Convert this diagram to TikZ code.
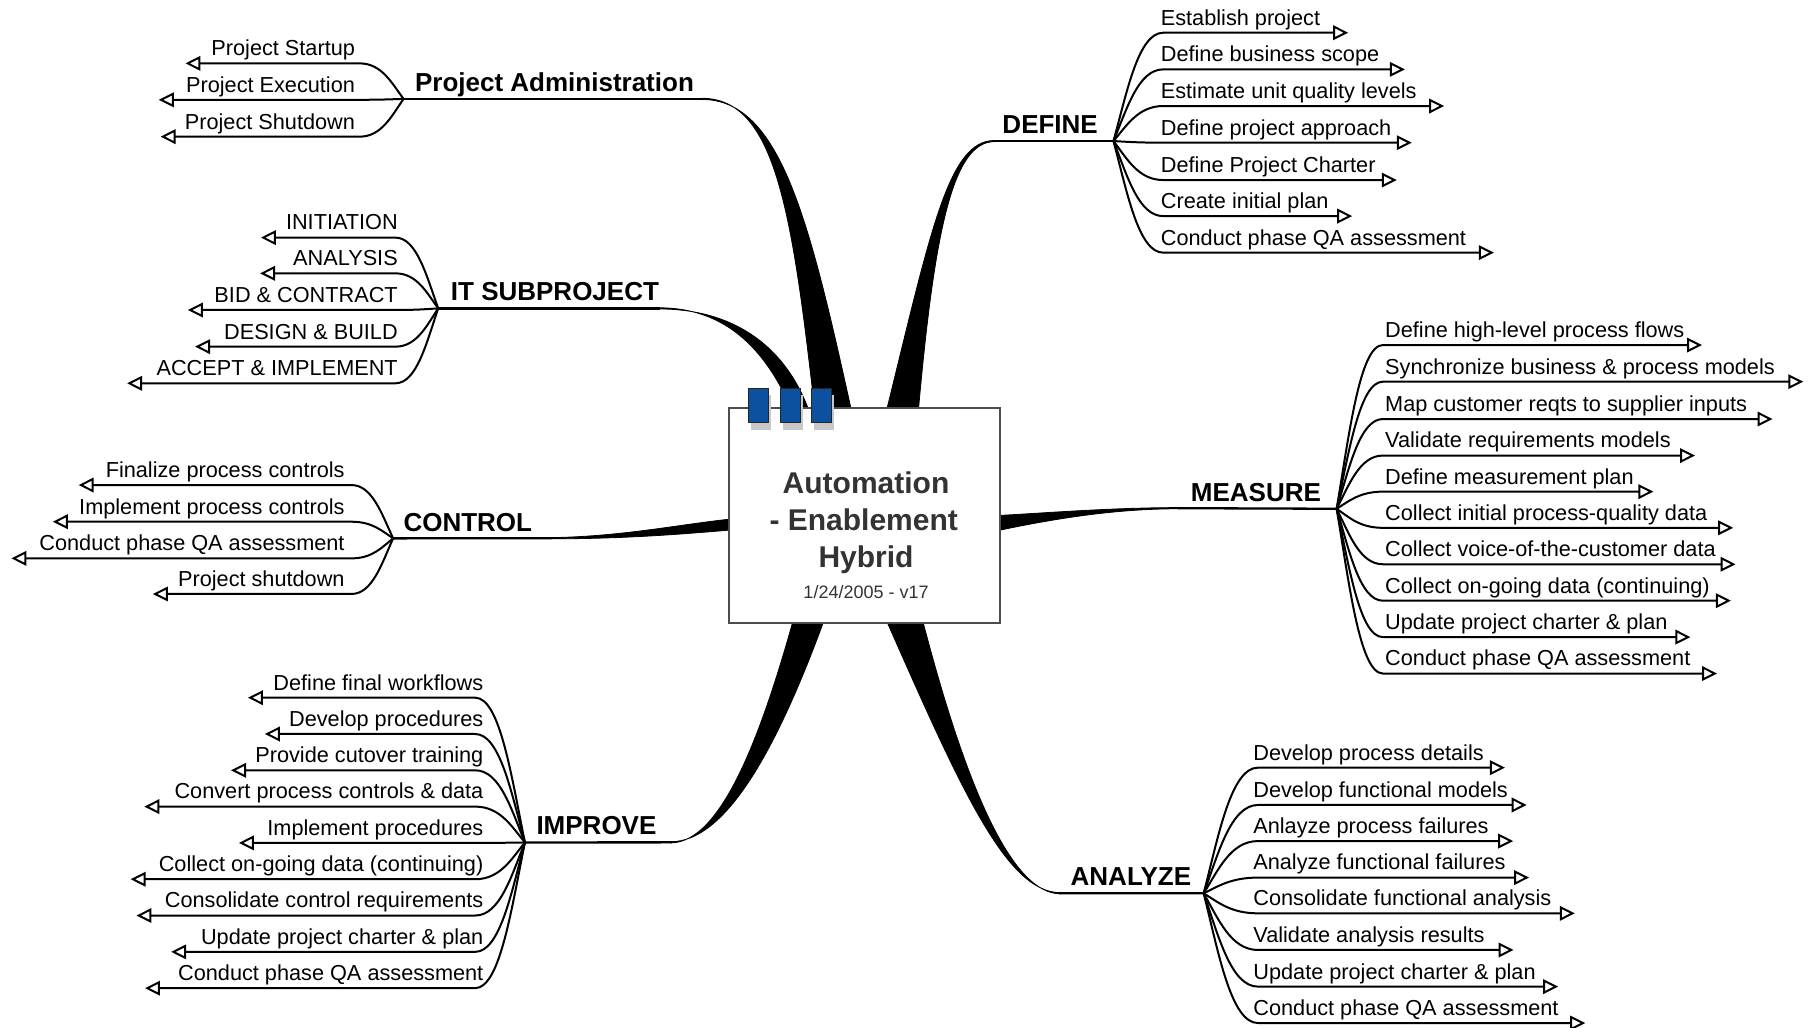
\documentclass[tikz,border=0pt]{standalone}
\usepackage{fontspec}
\setmainfont{Liberation Sans}
\usetikzlibrary{arrows.meta,calc}
\definecolor{boxblue}{RGB}{12,80,160}
\definecolor{shadowgray}{RGB}{200,200,200}
\definecolor{txtgray}{RGB}{51,51,51}
\tikzset{
  itemtxt/.style={inner sep=0pt, outer sep=0pt, font=\fontsize{21.7}{26}\selectfont},
  itemline/.style={line width=2pt, -{Triangle[open, length=15pt, width=14.5pt, line width=2pt]}},
  mainlbl/.style={inner sep=0pt, outer sep=0pt, anchor=base west, font=\bfseries\fontsize{26}{30}\selectfont},
  mainline/.style={line width=2.3pt},
  branchfill/.style={fill=black, draw=black, line width=0.8pt, line join=round},
  centertxt/.style={inner sep=0pt, outer sep=0pt, anchor=base, text=txtgray, font=\bfseries\fontsize{30}{36}\selectfont},
  clip rect/.style={fill=boxblue, draw=black!85, line width=1pt},
}
\newcommand\mmR[4]{%
  \pgfmathsetmacro\mmCax{\Hx+0.27*(\Sx-\Hx)}%
  \pgfmathsetmacro\mmCay{\Hy+0.45*(#3-\Hy)}%
  \pgfmathsetmacro\mmCbx{\Sx-0.5*(\Sx-\Hx)}%
  \pgfmathsetmacro\mmTy{#3-6.6}%
  \node[itemtxt,anchor=base west] (#1) at (\Tx,\mmTy) {#2};
  \coordinate (#1s) at (\Sx,#3);
  \coordinate (#1e) at (#4,#3);
  \draw[itemline] (\Hub) .. controls (\mmCax,\mmCay) and (\mmCbx,#3) .. (#1s) -- (#1e);
}
\newcommand\mmL[4]{%
  \pgfmathsetmacro\mmCax{\Hx+0.27*(\Sx-\Hx)}%
  \pgfmathsetmacro\mmCay{\Hy+0.45*(#3-\Hy)}%
  \pgfmathsetmacro\mmCbx{\Sx-0.5*(\Sx-\Hx)}%
  \pgfmathsetmacro\mmTy{#3-6.6}%
  \node[itemtxt,anchor=base east] (#1) at (\Tx,\mmTy) {#2};
  \coordinate (#1s) at (\Sx,#3);
  \coordinate (#1e) at (#4,#3);
  \draw[itemline] (\Hub) .. controls (\mmCax,\mmCay) and (\mmCbx,#3) .. (#1s) -- (#1e);
}
\begin{document}
\begin{tikzpicture}[x=1.15625pt,y=-1.15625pt]
\useasboundingbox (0,0) rectangle (1568,889);
\fill[white] (0,0) rectangle (1568,889);

% ---------- thick branches ----------
% Project Administration
\fill[branchfill] (607,85) .. controls (670,85) and (685,180) .. (705,358) -- (737,358) .. controls (700,190) and (675,86) .. (607,86) -- cycle;
% IT SUBPROJECT
\fill[branchfill] (570,266.2) .. controls (630,266.2) and (665,305) .. (688,362) -- (702,362) .. controls (682,300) and (635,267.2) .. (570,267.2) -- cycle;
% DEFINE
\fill[branchfill] (860,121.5) .. controls (820,121.5) and (805,200) .. (766,358) -- (794,358) .. controls (808,200) and (824,122.5) .. (860,122.5) -- cycle;
% MEASURE
\fill[branchfill] (1020,439) .. controls (960,439) and (900,444) .. (860,446) -- (860,459.5) .. controls (905,450) and (960,440) .. (1020,440) -- cycle;
% CONTROL
\fill[branchfill] (476,465) .. controls (540,464) and (590,453) .. (636,448.5) -- (636,458) .. controls (590,462) and (540,466) .. (476,466) -- cycle;
% IMPROVE
\fill[branchfill] (580,729) .. controls (625,729) and (660,630) .. (687,533) -- (714,533) .. controls (675,640) and (630,728) .. (580,728) -- cycle;
% ANALYZE
\fill[branchfill] (917,772) .. controls (870,772) and (830,680) .. (765,533) -- (797,533) .. controls (835,680) and (875,773) .. (917,773) -- cycle;

% ---------- hubs and label lines ----------
\coordinate (pahub) at (349,85.5);  \coordinate (paT) at (608,85.5);
\coordinate (ithub) at (379,266.7); \coordinate (itT) at (571,266.7);
\coordinate (cohub) at (340,465.6); \coordinate (coT) at (477,465.5);
\coordinate (imhub) at (454,728.6); \coordinate (imT) at (581,728.5);
\coordinate (dehub) at (963,122);   \coordinate (deT) at (859,122);
\coordinate (mehub) at (1156,440);  \coordinate (meT) at (1019,439.5);
\coordinate (anhub) at (1041,772.6);\coordinate (anT) at (916,772.5);
\draw[mainline] (pahub) -- (paT);
\draw[mainline] (ithub) -- (itT);
\draw[mainline] (cohub) -- (coT);
\draw[mainline] (imhub) -- (imT);
\draw[mainline] (dehub) -- (deT);
\draw[mainline] (mehub) -- (meT);
\draw[mainline] (anhub) -- (anT);

\node[mainlbl] (palbl) at (359,79) {Project Administration};
\node[mainlbl] (itlbl) at (390,259.8) {IT SUBPROJECT};
\node[mainlbl] (colbl) at (349,459.3) {CONTROL};
\node[mainlbl] (imlbl) at (464,722) {IMPROVE};
\node[mainlbl] (delbl) at (867,115.5) {DEFINE};
\node[mainlbl] (melbl) at (1030,433.5) {MEASURE};
\node[mainlbl] (anlbl) at (926,766.2) {ANALYZE};

% ---------- central box ----------
\node[draw=black!70, fill=white, line width=1.2pt, minimum width=271pt, minimum height=215pt, inner sep=0pt] (center) at (747.7,445.8) {};
\fill[shadowgray] (649.2,341.4) rectangle (667.2,371.6);
\fill[shadowgray] (676.8,341.4) rectangle (694.8,371.6);
\fill[shadowgray] (703.6,341.4) rectangle (721.6,371.6);
\draw[clip rect] (647,335.6) rectangle (665,365.8);
\draw[clip rect] (674.6,335.6) rectangle (692.6,365.8);
\draw[clip rect] (701.4,335.6) rectangle (719.4,365.8);
\node[centertxt] (ct1) at (749,426.4) {Automation};
\node[centertxt] (ct2) at (747,458.6) {- Enablement};
\node[centertxt] (ct3) at (749,491.2) {Hybrid};
\node[inner sep=0pt, anchor=base, text=txtgray, font=\fontsize{18}{22}\selectfont] (ct4) at (749,517.2) {1/24/2005 - v17};

% ---------- Project Administration items ----------
\def\Hub{pahub}\def\Hx{349}\def\Hy{85.5}\def\Sx{311}\def\Tx{307}
\mmL{p1}{Project Startup}{54.8}{160.4}
\mmL{p2}{Project Execution}{86.3}{137.3}
\mmL{p3}{Project Shutdown}{118.2}{138.9}

% ---------- IT SUBPROJECT items ----------
\def\Hub{ithub}\def\Hx{379}\def\Hy{266.7}\def\Sx{342}\def\Tx{344}
\mmL{t1}{INITIATION}{205.5}{225.7}
\mmL{t2}{ANALYSIS}{236.4}{224.9}
\mmL{t3}{BID \& CONTRACT}{268.1}{162.5}
\mmL{t4}{DESIGN \& BUILD}{299.8}{168.7}
\mmL{t5}{ACCEPT \& IMPLEMENT}{331.5}{109.9}

% ---------- CONTROL items ----------
\def\Hub{cohub}\def\Hx{340}\def\Hy{465.6}\def\Sx{304}\def\Tx{298}
\mmL{c1}{Finalize process controls}{419.5}{68}
\mmL{c2}{Implement process controls}{451.2}{45.7}
\mmL{c3}{Conduct phase QA assessment}{482.9}{9.9}
\mmL{c4}{Project shutdown}{513.7}{132.2}

% ---------- IMPROVE items ----------
\def\Hub{imhub}\def\Hx{454}\def\Hy{728.6}\def\Sx{411}\def\Tx{418}
\mmL{i1}{Define final workflows}{603.4}{214.4}
\mmL{i2}{Develop procedures}{634.8}{229}
\mmL{i3}{Provide cutover training}{666.2}{199.8}
\mmL{i4}{Convert process controls \& data}{697.6}{124.8}
\mmL{i5}{Implement procedures}{729}{206.6}
\mmL{i6}{Collect on-going data (continuing)}{760.4}{113}
\mmL{i7}{Consolidate control requirements}{791.8}{118}
\mmL{i8}{Update project charter \& plan}{823.2}{148}
\mmL{i9}{Conduct phase QA assessment}{854.6}{125.4}

% ---------- DEFINE items ----------
\def\Hub{dehub}\def\Hx{963}\def\Hy{122}\def\Sx{1006}\def\Tx{1004}
\mmR{d1}{Establish project}{28.3}{1166}
\mmR{d2}{Define business scope}{60}{1215}
\mmR{d3}{Estimate unit quality levels}{91.7}{1249}
\mmR{d4}{Define project approach}{123.4}{1221}
\mmR{d5}{Define Project Charter}{155.7}{1208}
\mmR{d6}{Create initial plan}{186.9}{1169.5}
\mmR{d7}{Conduct phase QA assessment}{218.5}{1292}

% ---------- MEASURE items ----------
\def\Hub{mehub}\def\Hx{1156}\def\Hy{440}\def\Sx{1196}\def\Tx{1198}
\mmR{m1}{Define high-level process flows}{298.4}{1472}
\mmR{m2}{Synchronize business \& process models}{330.1}{1559.6}
\mmR{m3}{Map customer reqts to supplier inputs}{362.4}{1533}
\mmR{m4}{Validate requirements models}{394}{1466}
\mmR{m5}{Define measurement plan}{425.2}{1430}
\mmR{m6}{Collect initial process-quality data}{456.5}{1499}
\mmR{m7}{Collect voice-of-the-customer data}{488}{1501}
\mmR{m8}{Collect on-going data (continuing)}{519.5}{1497}
\mmR{m9}{Update project charter \& plan}{551}{1462}
\mmR{m10}{Conduct phase QA assessment}{582.5}{1485}

% ---------- ANALYZE items ----------
\def\Hub{anhub}\def\Hx{1041}\def\Hy{772.6}\def\Sx{1088}\def\Tx{1084}
\mmR{a1}{Develop process details}{663.9}{1301.6}
\mmR{a2}{Develop functional models}{696.2}{1320.4}
\mmR{a3}{Anlayze process failures}{727.4}{1308.7}
\mmR{a4}{Analyze functional failures}{759}{1322.4}
\mmR{a5}{Consolidate functional analysis}{789.9}{1362}
\mmR{a6}{Validate analysis results}{821.6}{1309}
\mmR{a7}{Update project charter \& plan}{853.3}{1347.6}
\mmR{a8}{Conduct phase QA assessment}{884.8}{1371}
\end{tikzpicture}
\end{document}
